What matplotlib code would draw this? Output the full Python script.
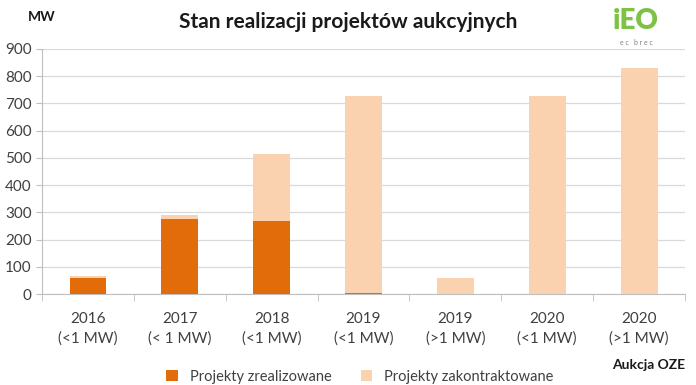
import matplotlib.pyplot as plt
import numpy as np

plt.rcParams["font.family"] = ["Lato", "DejaVu Sans"]

years = ["2016", "2017", "2018", "2019", "2019", "2020", "2020"]
sizes = ["(<1 MW)", "(< 1 MW)", "(<1 MW)", "(<1 MW)", "(>1 MW)", "(<1 MW)", "(>1 MW)"]
realized = [60, 277, 270, 5, 0, 0, 0]
contracted = [5, 13, 245, 723, 61, 728, 830]

c_real = "#E36C0A"
c_contr = "#FAD2AF"
grey = "#BFBFBF"

fig = plt.figure(figsize=(6.96, 3.85), dpi=100)
ax = fig.add_axes([0.0603, 0.236, 0.924, 0.637])

x = np.arange(len(years))
ax.bar(x, realized, width=0.4, color=c_real, label="Projekty zrealizowane", zorder=3)
ax.bar(x, contracted, width=0.4, bottom=realized, color=c_contr,
       label="Projekty zakontraktowane", zorder=3)

ax.set_xlim(-0.5, len(years) - 0.5)
ax.set_ylim(0, 900)
ax.set_yticks(np.arange(0, 901, 100))
ax.yaxis.grid(True, color="#D9D9D9", linewidth=0.9, zorder=0)
ax.set_axisbelow(True)

ax.set_xticks(x)
ax.set_xticklabels([f"{y}\n{s}" for y, s in zip(years, sizes)], fontsize=11,
                   color="#404040", linespacing=1.5)
ax.set_xticks(np.arange(-0.5, len(years)), minor=True)
ax.tick_params(axis="x", which="major", length=0, pad=13)
ax.tick_params(axis="x", which="minor", length=5, color=grey, direction="out")
ax.tick_params(axis="y", length=4, color=grey, labelsize=11, labelcolor="#404040")

for side in ["top", "right"]:
    ax.spines[side].set_visible(False)
ax.spines["left"].set_color(grey)
ax.spines["bottom"].set_color(grey)

fig.text(0.5, 0.942, "Stan realizacji projektów aukcyjnych", ha="center", va="center",
         fontsize=15, fontweight="bold", color="#1a1a1a")
fig.text(0.06, 0.955, "MW", ha="center", va="center", fontsize=10,
         fontweight="bold", color="#1a1a1a")
fig.text(0.985, 0.052, "Aukcja OZE", ha="right", va="center", fontsize=10,
         fontweight="bold", color="#1a1a1a")

# logo
fig.text(0.914, 0.945, "iEO", ha="center", va="center", fontsize=20,
         fontweight="heavy", color="#7DC242")
fig.text(0.914, 0.89, "e c   b r e c", ha="center", va="center", fontsize=5,
         color="#808080")

fig.legend(loc="center", bbox_to_anchor=(0.517, 0.022), ncol=2, frameon=False,
           fontsize=10.5, handlelength=0.8, handleheight=0.8, columnspacing=2.0,
           labelcolor="#404040")

fig.savefig("out.png", dpi=100)
